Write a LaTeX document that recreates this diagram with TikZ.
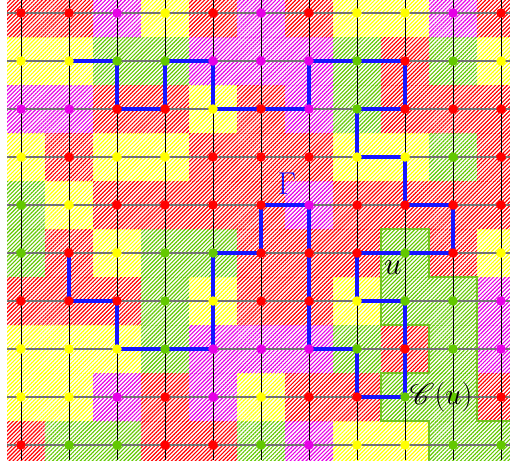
\documentclass[tikz,border=0pt]{standalone}
\usepackage{graphicx}
\usepackage{mathrsfs}
\usetikzlibrary{patterns.meta}
\definecolor{cR}{RGB}{255,0,0}
\definecolor{cY}{RGB}{255,255,0}
\definecolor{cG}{RGB}{98,200,0}
\definecolor{cM}{RGB}{230,0,230}
\definecolor{gammablue}{RGB}{20,20,255}
\definecolor{outlinegreen}{RGB}{115,195,35}
\tikzset{
  cellfill/.style={pattern={Lines[angle=45,distance=2.8pt,line width=1.15pt]}, pattern color=#1},
  hline/.style={draw={rgb,255:red,115;green,115;blue,115}, line width=1.8pt},
  vline/.style={draw=black, line width=1pt},
  gammapath/.style={draw=gammablue, line width=3.4pt, line join=miter},
  outlinepath/.style={draw=outlinegreen, line width=2.4pt},
  vdot/.style={circle, inner sep=0pt, minimum size=9.5pt, fill=#1},
  lbl/.style={font=\fontsize{24.88}{26}\selectfont, inner sep=0pt}
}
\begin{document}
\begin{tikzpicture}[x=1pt,y=-1pt]
\useasboundingbox (0,0) rectangle (510,466);
\begin{scope}[y=1pt]
  \clip (7,0) rectangle (510,-460);
  \foreach \row [count=\j from 0] in {
    {R,R,M,Y,R,M,R,Y,Y,M,R},
    {Y,Y,G,G,M,M,M,G,R,G,Y},
    {M,M,R,R,Y,R,M,G,R,R,R},
    {Y,R,Y,Y,R,R,R,Y,Y,G,R},
    {G,Y,R,R,R,R,M,R,R,R,R},
    {G,R,Y,G,G,R,R,R,G,R,Y},
    {R,R,R,G,Y,R,R,Y,G,G,M},
    {Y,Y,Y,G,M,M,M,G,R,G,M},
    {Y,Y,M,R,M,Y,R,R,G,G,R},
    {R,G,G,R,R,G,M,Y,Y,G,G}} {
    \foreach \c [count=\i from 0] in \row {
      \fill[cellfill=c\c] ({-3+48*\i},{11-48*\j}) rectangle ++(48,-48);
    }
  }
\end{scope}
\begin{scope}
  \clip (7,0) rectangle (510,460);
  \draw[outlinepath] (381,229) -- (429,229) -- (429,277) -- (477,277) -- (477,421)
    -- (525,421) -- (525,469) -- (429,469) -- (429,421) -- (381,421) -- (381,373)
    -- (429,373) -- (429,325) -- (381,325) -- cycle;
\end{scope}
% grid lines
\foreach \j in {0,...,9} \draw[hline] (7,{13+48*\j}) -- (510,{13+48*\j});
\foreach \i in {0,...,10} \draw[vline] ({21+48*\i},0) -- ({21+48*\i},460);
% vertex coordinates
\foreach \j in {0,...,9} \foreach \i in {0,...,10}
  \coordinate (p\i-\j) at ({21+48*\i},{13+48*\j});
% path Gamma
\draw[gammapath] (p1-1) -- (p2-1) -- (p2-2) -- (p3-2) -- (p3-1) -- (p4-1) -- (p4-2)
  -- (p5-2) -- (p6-2) -- (p6-1) -- (p7-1) -- (p8-1) -- (p8-2) -- (p7-2) -- (p7-3)
  -- (p8-3) -- (p8-4) -- (p9-4) -- (p9-5) -- (p8-5) -- (p7-5) -- (p7-6) -- (p8-6)
  -- (p8-7) -- (p8-8) -- (p7-8) -- (p7-7) -- (p6-7) -- (p6-6) -- (p6-5) -- (p6-4)
  -- (p5-4) -- (p5-5) -- (p4-5) -- (p4-6) -- (p4-7) -- (p3-7) -- (p2-7) -- (p2-6)
  -- (p1-6) -- (p1-5);
% dots
\foreach \row [count=\j from 0] in {
    {R,R,M,Y,R,M,R,Y,Y,M,R},
    {Y,Y,G,G,M,M,M,G,R,G,Y},
    {M,M,R,R,Y,R,M,G,R,R,R},
    {Y,R,Y,Y,R,R,R,Y,Y,G,R},
    {G,Y,R,R,R,R,M,R,R,R,R},
    {G,R,Y,G,G,R,R,R,G,R,Y},
    {R,R,R,G,Y,R,R,Y,G,G,M},
    {Y,Y,Y,G,M,M,M,G,R,G,M},
    {Y,Y,M,R,M,Y,R,R,G,G,R},
    {R,G,G,R,R,G,M,Y,Y,G,G}} {
  \foreach \c [count=\i from 0] in \row {
    \node[vdot=c\c] (v\i-\j) at (p\i-\j) {};
  }
}
% labels
\node[lbl, text=gammablue] (gammalabel) at (287,184) {\scalebox{1.27}{$\Gamma$}};
\node[lbl] (ulabel) at (393,268) {\scalebox{1.27}{$u$}};
\node[lbl] (clabel) at (441,397) {\scalebox{1.2}{$\mathscr{C}(u)$}};
\end{tikzpicture}
\end{document}
